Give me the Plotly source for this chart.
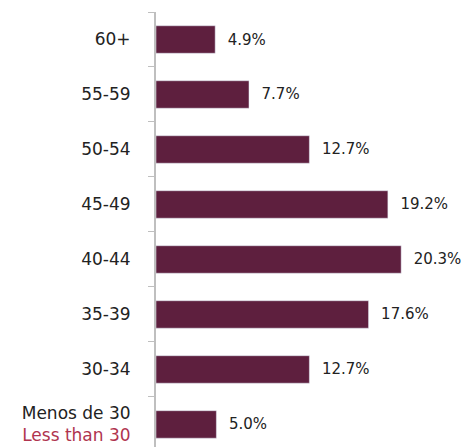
import plotly.graph_objects as go

# age groups, bottom to top
groups = ["Menos de 30<br><span style='color:#B0344F'>Less than 30</span>",
          "30-34", "35-39", "40-44", "45-49", "50-54", "55-59", "60+"]
shares = [5.0, 12.7, 17.6, 20.3, 19.2, 12.7, 7.7, 4.9]

bars = go.Bar(x=shares, y=groups, orientation="h",
              marker=dict(color="#5E1F3E"), width=0.5,
              text=[f"  {v:.1f}%" for v in shares], textposition="outside",
              textfont=dict(size=15, color="#222222"), cliponaxis=False)

# page body has an 8px default margin, so the figure is sized 8px smaller
layout = go.Layout(
    width=462, height=439,
    margin=dict(l=148, r=0, t=4, b=0),
    plot_bgcolor="white", paper_bgcolor="white",
    font=dict(family="DejaVu Sans", size=16, color="#222222"),
    showlegend=False,
    xaxis=dict(range=[0, 26], visible=False),
    yaxis=dict(type="category", range=[-0.41, 7.5], automargin=False,
               showline=True, linecolor="#BFBFBF", linewidth=2,
               ticks="outside", tickson="boundaries", ticklen=6,
               tickcolor="#BFBFBF", tickwidth=1, showgrid=False,
               tickfont=dict(size=17, color="#222222"),
               ticklabelstandoff=20),
)

fig = go.Figure(data=[bars], layout=layout)
fig.write_html("out.html")
